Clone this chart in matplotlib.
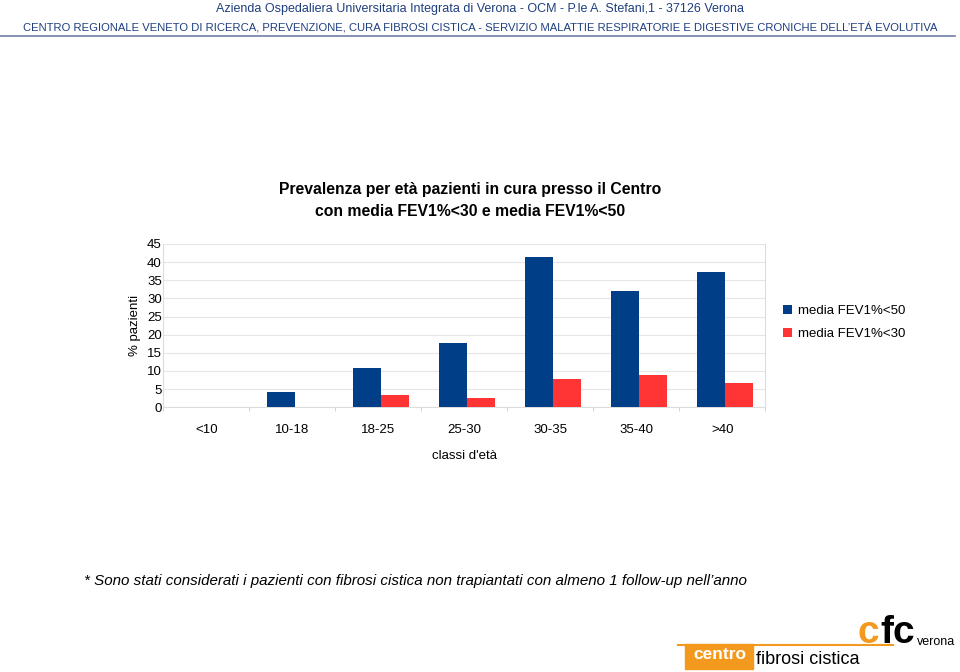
import numpy as np
import matplotlib.pyplot as plt
from matplotlib.patches import Rectangle

categories = ['<10', '10-18', '18-25', '25-30', '30-35', '35-40', '>40']
fev50 = [0, 4.2, 10.8, 17.6, 41.3, 32.0, 37.4]
fev30 = [0, 0, 3.5, 2.6, 7.8, 9.0, 6.8]

blue = '#003f87'
red = '#ff3434'

fig = plt.figure(figsize=(9.6, 6.72), dpi=100)
plt.rcParams['font.family'] = ['Liberation Sans', 'DejaVu Sans']

# header
hdr = '#1f3f80'
fig.text(0.5, 0.986, "Azienda Ospedaliera Universitaria Integrata di Verona - OCM - P.le A. Stefani,1 - 37126 Verona",
         ha='center', va='center', fontsize=9.0, color=hdr)
fig.text(0.5, 0.959, "CENTRO REGIONALE VENETO DI RICERCA, PREVENZIONE, CURA FIBROSI CISTICA - SERVIZIO MALATTIE RESPIRATORIE E DIGESTIVE CRONICHE DELL\u2019ETÁ EVOLUTIVA",
         ha='center', va='center', fontsize=8.1, color=hdr)
fig.add_artist(plt.Line2D([0.0, 0.995], [0.946, 0.946], color='#6f7fa8', lw=1.2))

ax = fig.add_axes([0.170, 0.394, 0.627, 0.243])
x = np.arange(len(categories))
w = 0.325
ax.bar(x - w / 2 + 0.03, fev50, w, color=blue, label='media FEV1%<50', zorder=3)
ax.bar(x + w / 2 + 0.03, fev30, w, color=red, label='media FEV1%<30', zorder=3)
ax.set_xlim(-0.5, len(categories) - 0.5)
ax.set_ylim(0, 45)
ax.set_yticks(np.arange(0, 46, 5))
ax.set_xticks(x)
ax.set_xticklabels(categories)
ax.set_xticks(np.arange(-0.5, len(categories), 1), minor=True)
ax.tick_params(axis='x', which='major', length=0, labelsize=9.5, pad=12)
ax.tick_params(axis='x', which='minor', length=3, color='#cccccc')
ax.tick_params(axis='y', length=0, labelsize=9.5, pad=1)
ax.grid(axis='y', color='#e6e6e6', lw=0.8, zorder=0)
for s in ['top', 'right', 'left', 'bottom']:
    ax.spines[s].set_color('#dddddd')
    ax.spines[s].set_linewidth(0.8)
ax.spines['top'].set_visible(False)
ax.set_ylabel('% pazienti', fontsize=9.5, labelpad=4)
ax.set_xlabel("classi d'età", fontsize=9.5, labelpad=10)
ax.set_title("Prevalenza per età pazienti in cura presso il Centro\ncon media FEV1%<30 e media FEV1%<50",
             fontsize=11.3, fontweight='bold', pad=20, linespacing=1.6)
ax.title.set_position((0.51, 1.0))

leg = ax.legend(loc='upper left', bbox_to_anchor=(1.01, 0.70), frameon=False, fontsize=9.5,
                handlelength=0.7, handleheight=0.7, handletextpad=0.4, labelspacing=0.85)

fig.text(0.088, 0.135, "* Sono stati considerati i pazienti con fibrosi cistica non trapiantati con almeno 1 follow-up nell\u2019anno",
         fontsize=10.9, style='italic', va='center')

# logo
orange = '#f39a1e'
fig.add_artist(plt.Line2D([0.706, 0.93], [0.04, 0.04], color=orange, lw=1.5))
fig.add_artist(Rectangle((0.714, 0.005), 0.07, 0.036, color=orange, transform=fig.transFigure))
fig.text(0.722, 0.026, 'centro', color='white', fontsize=12.5, fontweight='bold', va='center')
fig.text(0.787, 0.019, 'fibrosi cistica', color='black', fontsize=13, va='center')
fig.text(0.893, 0.058, 'c', color=orange, fontsize=28, fontweight='bold', va='center')
fig.text(0.917, 0.058, 'fc', color='black', fontsize=28, fontweight='bold', va='center')
fig.text(0.955, 0.045, 'verona', color='black', fontsize=9, va='center')

fig.savefig('out.png', dpi=100)
